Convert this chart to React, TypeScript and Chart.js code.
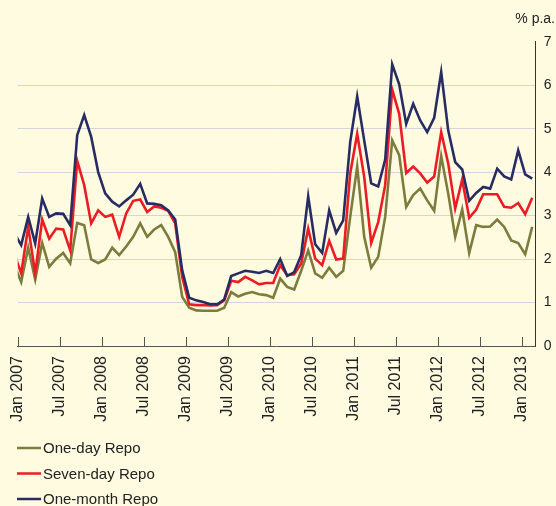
import React, { useEffect, useRef } from 'react';
import { Chart, registerables } from 'chart.js';

Chart.register(...registerables);

// Monthly averages, Dec 2006 (clipped at the left edge) to Feb 2013
const months = [
  'Dec 2006',
  'Jan 2007', 'Feb 2007', 'Mar 2007', 'Apr 2007', 'May 2007', 'Jun 2007', 'Jul 2007', 'Aug 2007', 'Sep 2007', 'Oct 2007', 'Nov 2007', 'Dec 2007',
  'Jan 2008', 'Feb 2008', 'Mar 2008', 'Apr 2008', 'May 2008', 'Jun 2008', 'Jul 2008', 'Aug 2008', 'Sep 2008', 'Oct 2008', 'Nov 2008', 'Dec 2008',
  'Jan 2009', 'Feb 2009', 'Mar 2009', 'Apr 2009', 'May 2009', 'Jun 2009', 'Jul 2009', 'Aug 2009', 'Sep 2009', 'Oct 2009', 'Nov 2009', 'Dec 2009',
  'Jan 2010', 'Feb 2010', 'Mar 2010', 'Apr 2010', 'May 2010', 'Jun 2010', 'Jul 2010', 'Aug 2010', 'Sep 2010', 'Oct 2010', 'Nov 2010', 'Dec 2010',
  'Jan 2011', 'Feb 2011', 'Mar 2011', 'Apr 2011', 'May 2011', 'Jun 2011', 'Jul 2011', 'Aug 2011', 'Sep 2011', 'Oct 2011', 'Nov 2011', 'Dec 2011',
  'Jan 2012', 'Feb 2012', 'Mar 2012', 'Apr 2012', 'May 2012', 'Jun 2012', 'Jul 2012', 'Aug 2012', 'Sep 2012', 'Oct 2012', 'Nov 2012', 'Dec 2012',
  'Jan 2013', 'Feb 2013',
];

const oneDayRepo = [
  1.87,
  1.47, 2.26, 1.53, 2.37, 1.82, 2.01, 2.14, 1.90, 2.83, 2.78, 1.99, 1.91,
  1.99, 2.26, 2.09, 2.29, 2.51, 2.82, 2.51, 2.68, 2.78, 2.51, 2.16, 1.13,
  0.88, 0.82, 0.81, 0.81, 0.81, 0.88, 1.24, 1.14, 1.20, 1.24, 1.19, 1.17,
  1.11, 1.55, 1.36, 1.30, 1.73, 2.20, 1.67, 1.57, 1.80, 1.59, 1.73, 2.97,
  4.13, 2.51, 1.80, 2.05, 2.97, 4.73, 4.39, 3.20, 3.47, 3.62, 3.35, 3.11,
  4.37, 3.51, 2.51, 3.14, 2.14, 2.78, 2.74, 2.75, 2.91, 2.74, 2.43, 2.37,
  2.11, 2.74,
];

const sevenDayRepo = [
  2.13,
  1.67, 2.74, 1.67, 2.91, 2.47, 2.70, 2.68, 2.20, 4.26, 3.70, 2.82, 3.12,
  2.97, 3.02, 2.51, 3.05, 3.34, 3.37, 3.08, 3.21, 3.18, 3.11, 2.82, 1.59,
  0.96, 0.94, 0.94, 0.93, 0.94, 1.05, 1.50, 1.47, 1.59, 1.51, 1.42, 1.45,
  1.45, 1.86, 1.63, 1.65, 1.90, 2.70, 2.01, 1.86, 2.42, 1.99, 2.01, 3.97,
  4.88, 3.89, 2.37, 2.85, 3.70, 5.90, 5.34, 3.98, 4.13, 3.97, 3.76, 3.90,
  4.92, 4.20, 3.16, 3.83, 2.95, 3.14, 3.49, 3.49, 3.49, 3.20, 3.18, 3.29,
  3.03, 3.41,
];

const oneMonthRepo = [
  2.60,
  2.32, 2.97, 2.36, 3.39, 2.97, 3.05, 3.04, 2.78, 4.85, 5.31, 4.81, 4.00,
  3.51, 3.32, 3.21, 3.35, 3.48, 3.73, 3.28, 3.27, 3.24, 3.12, 2.91, 1.74,
  1.11, 1.05, 1.01, 0.96, 0.96, 1.07, 1.61, 1.67, 1.73, 1.71, 1.68, 1.73,
  1.68, 2.00, 1.61, 1.70, 2.09, 3.44, 2.34, 2.14, 3.12, 2.60, 2.89, 4.69,
  5.74, 4.73, 3.74, 3.67, 4.29, 6.48, 6.02, 5.11, 5.57, 5.19, 4.92, 5.25,
  6.30, 4.96, 4.23, 4.06, 3.34, 3.52, 3.66, 3.62, 4.08, 3.90, 3.83, 4.50,
  3.95, 3.85,
];

// x axis: months since Jan 2007
const tickValues = [0, 6, 12, 18, 24, 30, 36, 42, 48, 54, 60, 66, 72];
const tickLabels = [
  'Jan 2007', 'Jul 2007', 'Jan 2008', 'Jul 2008', 'Jan 2009', 'Jul 2009', 'Jan 2010',
  'Jul 2010', 'Jan 2011', 'Jul 2011', 'Jan 2012', 'Jul 2012', 'Jan 2013',
];
const seriesNames = ['One-day Repo', 'Seven-day Repo', 'One-month Repo'];
const seriesColors = ['#7d7c3c', '#ec1c24', '#272c63'];
const yUnit = '% p.a.';

const FONT = "'Liberation Sans', Arial, Helvetica, sans-serif";
const BG = '#fffbe1';

function toPoints(values: number[]) {
  // index 0 is Dec 2006 (month -1); each point sits mid-month
  return values.map((v, i) => ({ x: i - 1 + 0.5, y: v }));
}

const extrasPlugin = {
  id: 'extras',
  afterDraw(chart: any) {
    const { ctx, chartArea, scales } = chart;
    const xs = scales.x;
    ctx.save();
    // upward tick marks on the x axis
    ctx.strokeStyle = '#555';
    ctx.lineWidth = 1;
    tickValues.forEach((v) => {
      const px = Math.round(xs.getPixelForValue(v)) + 0.5;
      ctx.beginPath();
      ctx.moveTo(px, chartArea.bottom);
      ctx.lineTo(px, chartArea.bottom - 9);
      ctx.stroke();
    });
    // unit label
    ctx.fillStyle = '#222';
    ctx.font = `14px ${FONT}`;
    ctx.textAlign = 'right';
    ctx.textBaseline = 'alphabetic';
    ctx.fillText(yUnit, 555, 23);
    // legend
    ctx.font = `15px ${FONT}`;
    ctx.textAlign = 'left';
    ctx.textBaseline = 'middle';
    chart.data.datasets.forEach((ds: any, k: number) => {
      const y = 448 + k * 25.5;
      ctx.strokeStyle = ds.borderColor;
      ctx.lineWidth = 2.5;
      ctx.beginPath();
      ctx.moveTo(17, y);
      ctx.lineTo(41, y);
      ctx.stroke();
      ctx.fillStyle = '#222';
      ctx.fillText(ds.label, 43, y + 1);
    });
    ctx.restore();
  },
};

const bgPlugin = {
  id: 'bg',
  beforeDraw(chart: any) {
    const { ctx, width, height } = chart;
    ctx.save();
    ctx.fillStyle = BG;
    ctx.fillRect(0, 0, width, height);
    ctx.restore();
  },
};

export default function App() {
  const canvasRef = useRef<HTMLCanvasElement | null>(null);

  useEffect(() => {
    if (!canvasRef.current) return;
    Chart.defaults.font.family = FONT;
    const series = [oneDayRepo, sevenDayRepo, oneMonthRepo];
    const chart = new Chart(canvasRef.current, {
      type: 'line',
      data: {
        datasets: series.map((vals, k) => ({
          label: seriesNames[k],
          data: toPoints(vals),
          borderColor: seriesColors[k],
          backgroundColor: seriesColors[k],
          borderWidth: 2.6,
          pointRadius: 0,
          tension: 0,
          fill: false,
          order: 2 - k,
        })),
      },
      options: {
        animation: false,
        responsive: false,
        devicePixelRatio: 1,
        layout: { padding: { left: 17.7, top: 41.7, right: 0, bottom: 0 } },
        plugins: { legend: { display: false }, tooltip: { enabled: false } },
        scales: {
          x: {
            type: 'linear',
            min: 0,
            max: 74,
            afterBuildTicks: (scale: any) => {
              scale.ticks = tickValues.map((value) => ({ value }));
            },
            afterFit: (scale: any) => {
              scale.height = 160;
            },
            ticks: {
              autoSkip: false,
              minRotation: 90,
              maxRotation: 90,
              padding: 10,
              color: '#222',
              font: { size: 16, family: FONT },
              callback: (_v: any, i: number) => tickLabels[i],
            },
            grid: { display: false, drawTicks: false },
            border: { display: true, color: '#555', width: 1 },
          },
          y: {
            position: 'right',
            min: 0,
            max: 7,
            afterFit: (scale: any) => {
              scale.width = 20.3;
            },
            ticks: {
              stepSize: 1,
              padding: 8,
              color: '#222',
              font: { size: 14, family: FONT },
            },
            grid: {
              drawTicks: false,
              lineWidth: 1,
              color: (c: any) =>
                c.tick && (c.tick.value === 0 || c.tick.value === 7) ? 'rgba(0,0,0,0)' : '#d4d4dc',
            },
            border: { display: true, color: '#333', width: 1 },
          },
        },
      },
      plugins: [bgPlugin, extrasPlugin],
    } as any);
    return () => chart.destroy();
  }, []);

  return (
    <div style={{ position: 'fixed', left: 0, top: 0, width: 556, height: 506, background: BG }}>
      <canvas ref={canvasRef} width={556} height={506} style={{ display: 'block', width: 556, height: 506 }} />
    </div>
  );
}
